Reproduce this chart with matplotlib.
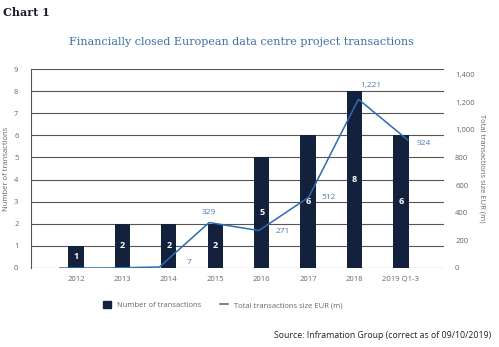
import numpy as np
import matplotlib
matplotlib.use("Agg")
import matplotlib.pyplot as plt
from matplotlib.patches import Patch
from matplotlib.lines import Line2D

years = ["2012", "2013", "2014", "2015", "2016", "2017", "2018", "2019 Q1-3"]
n_transactions = [1, 2, 2, 2, 5, 6, 8, 6]
total_size = [0, 0, 7, 329, 271, 512, 1221, 924]
size_labels = [None, None, "7", "329", "271", "512", "1,221", "924"]

navy = "#14213d"
blue = "#2b6cb0"
label_blue = "#4a7ab8"
grey = "#666666"

plt.rcParams['font.family'] = ['Open Sans', 'DejaVu Sans']

fig = plt.figure(figsize=(4.99, 3.47), dpi=100)
rect = [31 / 499, 1 - 268 / 347, (444 - 31) / 499, (268 - 69) / 347]
ax = fig.add_axes(rect)

x = np.arange(len(years))
ax.bar(x, n_transactions, width=0.33, color=navy, zorder=3)
for xi, v in zip(x, n_transactions):
    ax.text(xi, v / 2, str(v), ha='center', va='center', color='white',
            fontsize=6.5, fontweight='bold', zorder=4)

ax.set_ylim(0, 9)
ax.set_xlim(-0.97, 7.93)
ax.set_yticks(range(0, 10))
ax.yaxis.grid(True, color='#555555', linewidth=0.8, zorder=0)
ax.set_axisbelow(True)
for s in ['top', 'right', 'bottom']:
    ax.spines[s].set_visible(False)
ax.spines['left'].set_color('#555555')
ax.spines['left'].set_linewidth(0.8)
ax.set_xticks(x)
ax.set_xticklabels(years)
ax.tick_params(axis='both', length=0, labelsize=5.5, labelcolor=grey, pad=9)
ax.tick_params(axis='x', pad=6)
ax.set_ylabel("Number of transactions", fontsize=5.5, color=grey, labelpad=3)

# line series sits on its own category scale (as in the original)
ax2 = fig.add_axes(rect, frameon=False)
ax2.patch.set_visible(False)
ax2.plot(x, total_size, color=blue, linewidth=1.1, zorder=5)
ax2.set_xlim(-0.58, 7.72)
ax2.set_xticks([])
ax2.set_ylim(0, 1440)
ax2.yaxis.tick_right()
ax2.yaxis.set_label_position('right')
ax2.set_yticks(range(0, 1401, 200))
ax2.set_yticklabels([f"{v:,}" for v in range(0, 1401, 200)])
ax2.tick_params(axis='y', length=0, labelsize=5.5, labelcolor=grey, pad=8)
ax2.set_ylabel("Total transactions size EUR (m)", fontsize=5.5, color=grey,
               rotation=270, labelpad=8)

offsets = {2: (0.6, 30), 3: (0.0, 70), 4: (0.48, -10),
           5: (0.4, 0), 6: (0.24, 100), 7: (0.32, -20)}
for i, lab in enumerate(size_labels):
    if lab is None:
        continue
    dx, dy = offsets[i]
    ax2.text(x[i] + dx, total_size[i] + dy, lab, ha='center', va='center',
             fontsize=6, color=label_blue, zorder=6)

handles = [Patch(color=navy), Line2D([0], [0], color=blue, linewidth=1.1)]
fig.legend(handles, ["Number of transactions", "Total transactions size EUR (m)"],
           loc='center', bbox_to_anchor=(223 / 499, 1 - 305 / 347), ncol=2,
           frameon=False, fontsize=5.5, labelcolor=grey, handlelength=1.0,
           handleheight=1.0, columnspacing=2.5, handletextpad=0.8)

fig.text(3 / 499, 1 - 12 / 347, "Chart 1", fontsize=8, fontweight='bold',
         color='#1a1a2e', family=['DejaVu Serif'], ha='left', va='center')
fig.text(241 / 499, 1 - 42 / 347,
         "Financially closed European data centre project transactions",
         fontsize=8, color='#3c6ea8', family=['DejaVu Serif'],
         ha='center', va='center')
fig.text(491 / 499, 1 - 336 / 347,
         "Source: Inframation Group (correct as of 09/10/2019)",
         fontsize=6.3, color='#222222', ha='right', va='center')

fig.savefig("out.png", dpi=100)
